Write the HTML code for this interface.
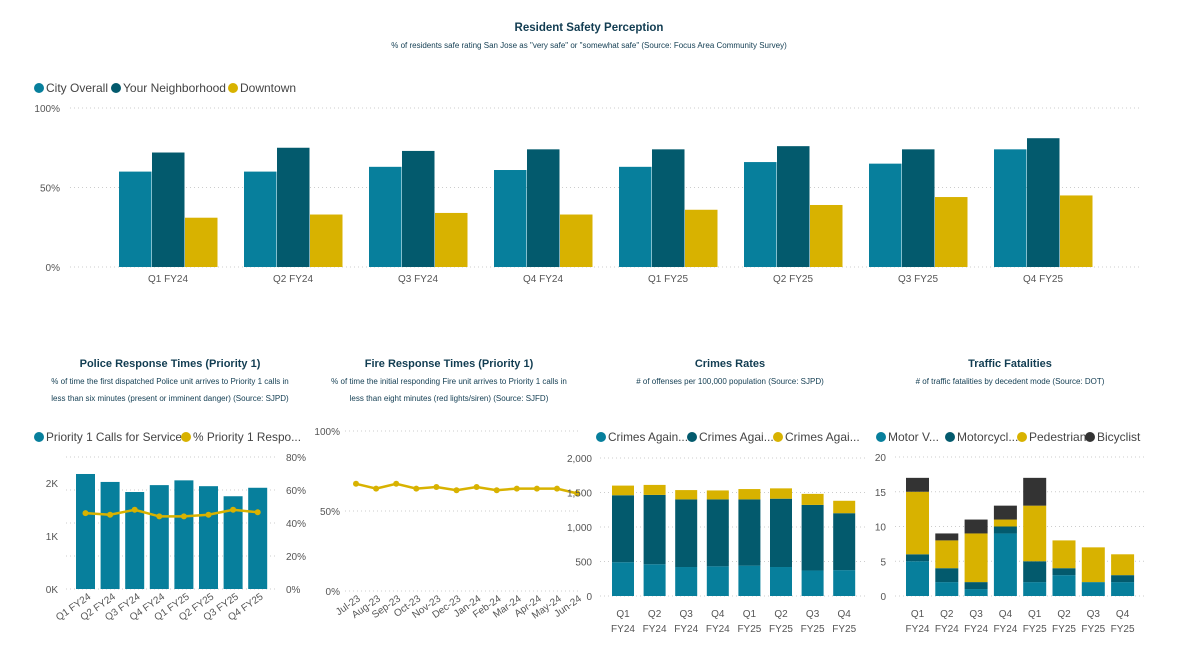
<!DOCTYPE html>
<html><head><meta charset="utf-8">
<style>
html,body{margin:0;padding:0;background:#fff;}
body{width:1179px;height:659px;overflow:hidden;font-family:"Liberation Sans",sans-serif;}
svg{display:block}
</style></head>
<body>
<svg id="c" width="1179" height="659" xmlns="http://www.w3.org/2000/svg"></svg>
<script>
// Top chart data
const topCats=["Q1 FY24","Q2 FY24","Q3 FY24","Q4 FY24","Q1 FY25","Q2 FY25","Q3 FY25","Q4 FY25"];
const cityOverall=[60,60,63,61,63,66,65,74];
const yourNeighborhood=[72,75,73,74,74,76,74,81];
const downtown=[31,33,34,33,36,39,44,45];
const topTicks=[0,50,100];
// Police
const polCats=["Q1 FY24","Q2 FY24","Q3 FY24","Q4 FY24","Q1 FY25","Q2 FY25","Q3 FY25","Q4 FY25"];
const polCalls=[2170,2020,1830,1960,2050,1940,1750,1910];
const polPct=[46,45,48,44,44,45,48,46.5];
const polLeftTicks=[0,1000,2000];
const polLeftLabels=["0K","1K","2K"];
const polRightTicks=[0,20,40,60,80];
// Fire
const fireCats=["Jul-23","Aug-23","Sep-23","Oct-23","Nov-23","Dec-23","Jan-24","Feb-24","Mar-24","Apr-24","May-24","Jun-24"];
const firePct=[67,64,67,64,65,63,65,63,64,64,64,61];
const fireTicks=[0,50,100];
// Crimes
const qCatsA=["Q1","Q2","Q3","Q4","Q1","Q2","Q3","Q4"];
const qCatsB=["FY24","FY24","FY24","FY24","FY25","FY25","FY25","FY25"];
const crimesPersons=[490,460,420,430,440,420,370,375];
const crimesProperty=[970,1005,980,970,960,990,950,825];
const crimesSociety=[140,145,135,130,150,150,160,180];
const crimeTicks=[0,500,1000,1500,2000];
const crimeTickLabels=["0","500","1,000","1,500","2,000"];
// Traffic
const motorV=[5,2,1,9,2,3,2,2];
const motorcycle=[1,2,1,1,3,1,0,1];
const pedestrian=[9,4,7,1,8,4,5,3];
const bicyclist=[2,1,2,2,4,0,0,0];
const trafTicks=[0,5,10,15,20];

const C1="#077f9c",C2="#035a6d",C3="#d8b200",C4="#333333",TXT="#555",TTL="#123d52";
const svg=document.getElementById('c');
const NS="http://www.w3.org/2000/svg";
function mk(tag,attrs,text){const e=document.createElementNS(NS,tag);for(const k in attrs)e.setAttribute(k,attrs[k]);if(text!==undefined)e.textContent=text;svg.appendChild(e);return e;}
function txt(x,y,s,size,fill,anchor,weight){return mk('text',{x:x,y:y,'font-size':size,fill:fill,'text-anchor':anchor||'start','font-weight':weight||'normal','font-family':'"Liberation Sans",sans-serif'},s);}
function grid(x1,x2,y){return mk('line',{x1:x1,x2:x2,y1:y,y2:y,stroke:'#ccc','stroke-width':1,'stroke-dasharray':'1,3'});}
// items: [label,color,circleX,maxTextWidth]
function legend(y,items){items.forEach(it=>{const c=mk('circle',{cx:it[2],cy:y-4,r:5,fill:it[1]});const t=txt(it[2]+7,y,it[0],12,'#444');if(t.getComputedTextLength()>it[3]){t.setAttribute('textLength',it[3]);t.setAttribute('lengthAdjust','spacingAndGlyphs');}});}

// Titles
let e=txt(589,31,"Resident Safety Perception",11.5,TTL,'middle','bold');
e=txt(589,48,'% of residents safe rating San Jose as "very safe" or "somewhat safe"  (Source: Focus Area Community Survey)',8,TTL,'middle');
legend(92,[["City Overall",C1,39,66],["Your Neighborhood",C2,116,107],["Downtown",C3,233,62]]);

// Top chart
const tY=v=>267-v*1.59;
topTicks.forEach(t=>{grid(70,1140,tY(t));e=txt(60,tY(t)+4,t+"%",10,TXT,'end');});
const tX=i=>168+i*125;
topCats.forEach((c,i)=>{
 [[cityOverall,C1,-49],[yourNeighborhood,C2,-16],[downtown,C3,17]].forEach(s=>{
  const b=mk('rect',{x:tX(i)+s[2],y:tY(s[0][i]),width:32.5,height:267-tY(s[0][i]),fill:s[1]});
  
  
 });
 e=txt(tX(i),282,c,10,TXT,'middle');
});

// Bottom titles
[[170,"Police Response Times (Priority 1)",["%  of time the first dispatched Police unit arrives to Priority 1 calls in","less than six minutes (present or imminent danger) (Source: SJPD)"]],
 [449,"Fire Response Times (Priority 1)",["% of time the initial responding Fire unit arrives to Priority 1 calls in","less than eight minutes (red lights/siren) (Source: SJFD)"]],
 [730,"Crimes Rates",["# of offenses per 100,000 population (Source: SJPD)"]],
 [1010,"Traffic Fatalities",["# of traffic fatalities by decedent mode (Source: DOT)"]]].forEach(p=>{
 e=txt(p[0],367,p[1],11,TTL,'middle','bold');
 p[2].forEach((l,j)=>{e=txt(p[0],384+j*17,l,8,TTL,'middle');});
});

// Police
legend(441,[["Priority 1 Calls for Service",C1,39,136],["% Priority 1 Respo...",C3,186,108]]);
const pL=v=>589-v*0.053, pR=v=>589-v*1.65, pX=i=>85.5+i*24.6;
polRightTicks.forEach(t=>{grid(66,275,pR(t));e=txt(286,pR(t)+4,t+"%",10,TXT,'start');});
polLeftTicks.forEach((t,i)=>{e=txt(58,pL(t)+4,polLeftLabels[i],10,TXT,'end');});
polCalls.forEach((v,i)=>{const b=mk('rect',{x:pX(i)-9.5,y:pL(v),width:19,height:589-pL(v),fill:C1});});
mk('polyline',{points:polPct.map((v,i)=>pX(i)+','+pR(v)).join(' '),fill:'none',stroke:C3,'stroke-width':2.5});
polPct.forEach((v,i)=>{const c=mk('circle',{cx:pX(i),cy:pR(v),r:3,fill:C3});});
polCats.forEach((c,i)=>{e=mk('text',{x:pX(i)+6,y:598,'font-size':10,fill:TXT,'text-anchor':'end',transform:`rotate(-35 ${pX(i)+6} 598)`,'font-family':'"Liberation Sans",sans-serif'},c);});

// Fire
const fY=v=>591-v*1.6, fX=i=>356+i*20.1;
fireTicks.forEach(t=>{grid(345,580,fY(t));e=txt(340,fY(t)+4,t+"%",10,TXT,'end');});
mk('polyline',{points:firePct.map((v,i)=>fX(i)+','+fY(v)).join(' '),fill:'none',stroke:C3,'stroke-width':2.5});
firePct.forEach((v,i)=>{const c=mk('circle',{cx:fX(i),cy:fY(v),r:3,fill:C3});});
fireCats.forEach((c,i)=>{e=mk('text',{x:fX(i)+5,y:600,'font-size':10,fill:TXT,'text-anchor':'end',transform:`rotate(-35 ${fX(i)+5} 600)`,'font-family':'"Liberation Sans",sans-serif'},c);});

// Crimes
legend(441,[["Crimes Again...",C1,601,80],["Crimes Agai...",C2,692,78],["Crimes Agai...",C3,778,78]]);
const cY=v=>596-v*0.069, cX=i=>623+i*31.6;
crimeTicks.forEach((t,i)=>{grid(600,868,cY(t));e=txt(592,cY(t)+4,crimeTickLabels[i],10,TXT,'end');});
qCatsA.forEach((c,i)=>{let base=0;[[crimesPersons,C1],[crimesProperty,C2],[crimesSociety,C3]].forEach(s=>{const v=s[0][i];const b=mk('rect',{x:cX(i)-11,y:cY(base+v),width:22,height:cY(base)-cY(base+v),fill:s[1]});base+=v;});
 e=txt(cX(i),617,c,10,TXT,'middle');
 e=txt(cX(i),632,qCatsB[i],10,TXT,'middle');});

// Traffic
legend(441,[["Motor V...",C1,881,57],["Motorcycl...",C2,950,62],["Pedestrian",C3,1022,58],["Bicyclist",C4,1090,50]]);
const rY=v=>596-v*6.95, rX=i=>917.5+i*29.3;
trafTicks.forEach(t=>{grid(895,1145,rY(t));e=txt(886,rY(t)+4,t,10,TXT,'end');});
qCatsA.forEach((c,i)=>{let base=0;[[motorV,C1],[motorcycle,C2],[pedestrian,C3],[bicyclist,C4]].forEach(s=>{const v=s[0][i];if(v>0){const b=mk('rect',{x:rX(i)-11.5,y:rY(base+v),width:23,height:rY(base)-rY(base+v),fill:s[1]});}base+=v;});
 e=txt(rX(i),617,c,10,TXT,'middle');
 e=txt(rX(i),632,qCatsB[i],10,TXT,'middle');});
</script>
</body></html>
